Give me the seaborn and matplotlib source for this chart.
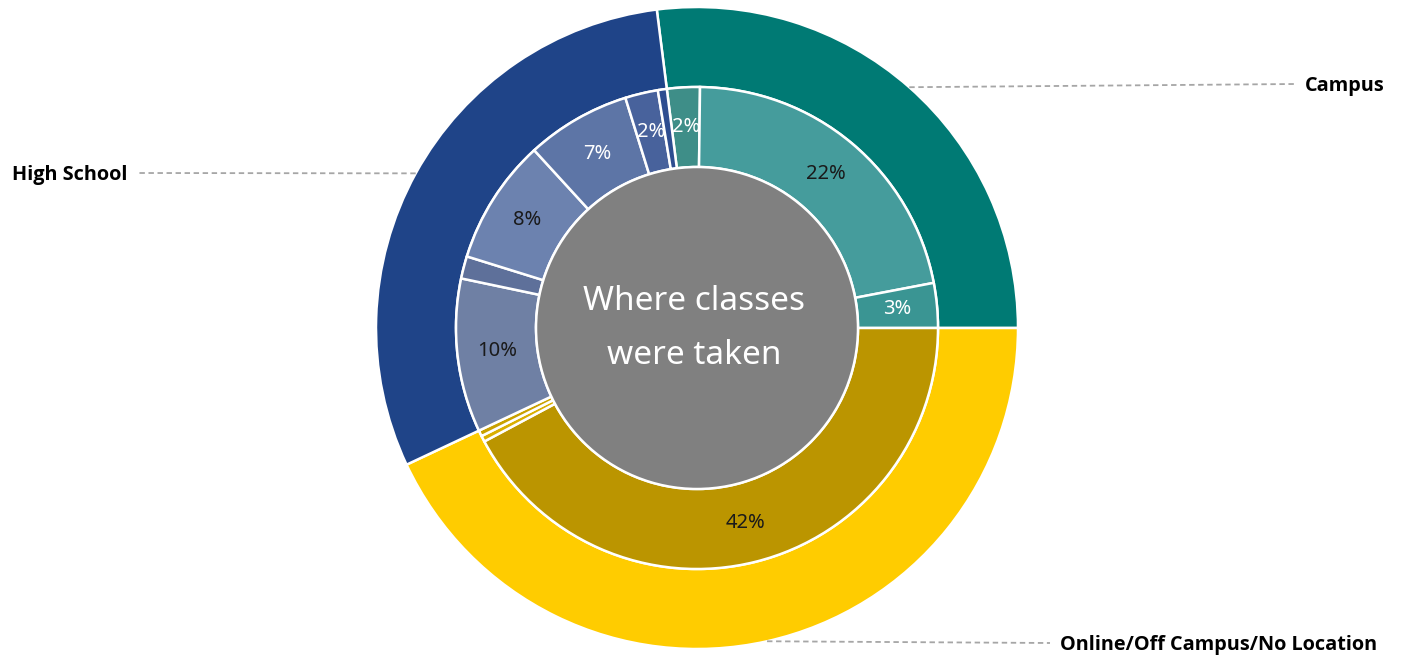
import numpy as np
import matplotlib
matplotlib.use("Agg")
import matplotlib.pyplot as plt
import seaborn as sns

# Outer ring: where classes were taken (percent of all classes)
groups = ['Campus', 'Online/Off Campus/No Location', 'High School']
group_colors = ['#007A74', '#FFCC00', '#1F4488']

# Inner ring: breakdown inside each group (percent of all classes)
campus_vals = [2.2, 21.8, 3.0]
online_vals = [42.2, 0.4, 0.4]
hs_vals = [10.3, 1.5, 8.4, 7.0, 2.2, 0.6]

campus_colors = ['#3E8E88', '#459C9C', '#3A9593']
online_colors = ['#BB9500', '#D9AE00', '#C9A100']
hs_colors = ['#6F80A4', '#5E709A', '#6C82AF', '#5D75A6', '#48629C', '#2E4D90']

campus_text = ['white', '#1A1A1A', 'white']
online_text = ['#1A1A1A', 'white', 'white']
hs_text = ['#1A1A1A', 'white', '#1A1A1A', 'white', 'white', 'white']


def main():
    sns.set_theme(style="white")
    plt.rcParams['font.family'] = ['Noto Sans', 'DejaVu Sans']

    inner_vals = campus_vals + online_vals + hs_vals
    inner_colors = campus_colors + online_colors + hs_colors
    inner_text = campus_text + online_text + hs_text
    outer_vals = [sum(campus_vals), sum(online_vals), sum(hs_vals)]

    W, H = 1403, 662
    fig = plt.figure(figsize=(W / 100, H / 100), dpi=100)
    ax = fig.add_axes([0, 0, 1, 1])

    cx, cy = 697, H - 328
    r_out, r_mid, r_in = 321, 241, 161
    start = 97.2

    outer, _ = ax.pie(outer_vals, colors=group_colors, radius=r_out, center=(cx, cy),
                      startangle=start, counterclock=False, frame=True,
                      wedgeprops=dict(width=r_out - r_mid, edgecolor='white', linewidth=1.8))
    inner, _ = ax.pie(inner_vals, colors=inner_colors, radius=r_mid, center=(cx, cy),
                      startangle=start, counterclock=False, frame=True,
                      wedgeprops=dict(width=r_mid - r_in, edgecolor='white', linewidth=1.8))
    ax.set_xlim(0, W)
    ax.set_ylim(0, H)
    ax.set_aspect('equal')
    ax.axis('off')

    # centre disc
    ax.add_patch(plt.Circle((cx, cy), r_in, facecolor='#808080', edgecolor='white', lw=1.8))
    ax.text(cx - 3, cy + 27, 'Where classes', ha='center', va='center',
            color='white', fontsize=24)
    ax.text(cx - 3, cy - 27, 'were taken', ha='center', va='center',
            color='white', fontsize=24)

    # percentage labels on inner ring
    total = sum(inner_vals)
    for w, v, tc in zip(inner, inner_vals, inner_text):
        if v / total * 100 < 1.8:
            continue
        ang = np.deg2rad((w.theta1 + w.theta2) / 2)
        rl = (r_mid + r_in) / 2
        ax.text(cx + rl * np.cos(ang), cy + rl * np.sin(ang), f"{round(v / total * 100)}%",
                ha='center', va='center', color=tc, fontsize=14.5)

    # category labels with dashed leader lines
    label_pos = {'Campus': (1305, H - 86, 'left'),
                 'Online/Off Campus/No Location': (1060, H - 645, 'left'),
                 'High School': (128, H - 175, 'right')}
    for w, name in zip(outer, groups):
        ang = np.deg2rad((w.theta1 + w.theta2) / 2)
        px, py = cx + r_out * np.cos(ang), cy + r_out * np.sin(ang)
        tx, ty, ha = label_pos[name]
        lx = tx - 10 if ha == 'left' else tx + 9
        ax.plot([px, lx], [py, ty + 2], color='#A6A6A6', lw=1.3, ls=(0, (3, 2)))
        ax.text(tx, ty, name, ha=ha, va='center', fontsize=14.3, fontweight='bold',
                family=['Open Sans', 'Lato', 'DejaVu Sans'], color='black')

    fig.savefig('out.png', dpi=100, facecolor='white')


if __name__ == '__main__':
    main()
